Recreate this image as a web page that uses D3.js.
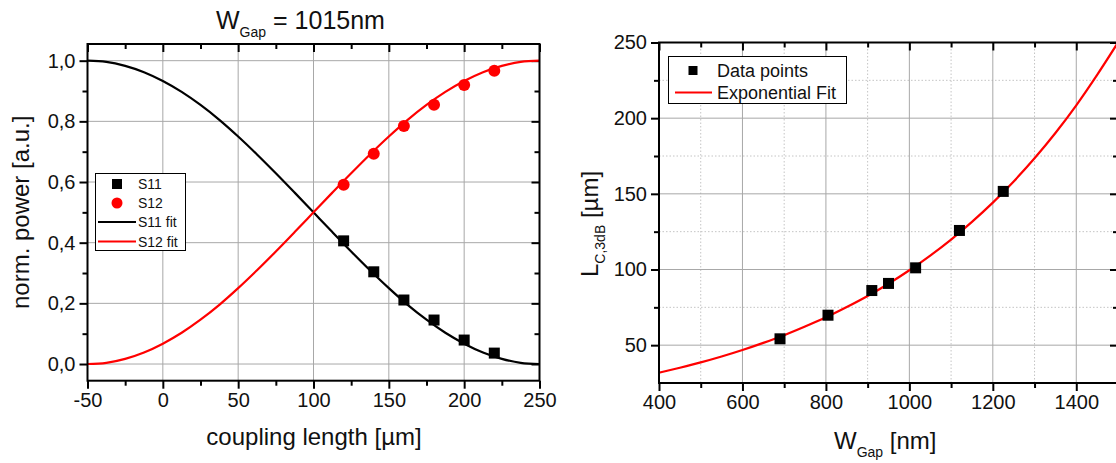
<!DOCTYPE html>
<html>
<head>
<meta charset="utf-8">
<script src="https://cdn.jsdelivr.net/npm/d3@7"></script>
<style>
  html, body { margin: 0; padding: 0; background: #fff; }
  svg { display: block; font-family: "Liberation Sans", Arial, sans-serif; }
</style>
</head>
<body>
<svg id="chart" width="1116" height="463"></svg>
<script>
// ---------- Left panel data ----------
const leftXTicks = [-50, 0, 50, 100, 150, 200, 250];
const leftXMinor = [-25, 25, 75, 125, 175, 225];
const leftYTicks = [0, 0.2, 0.4, 0.6, 0.8, 1.0];
const leftYMinor = [0.1, 0.3, 0.5, 0.7, 0.9];

const couplingLength = [120, 140, 160, 180, 200, 220];
const s11Points = [0.406, 0.304, 0.211, 0.145, 0.079, 0.036];
const s12Points = [0.591, 0.693, 0.785, 0.855, 0.920, 0.967];

const fitX = [-50, -37.5, -25, -12.5, 0, 12.5, 25, 37.5, 50, 62.5, 75, 87.5, 100, 112.5, 125, 137.5, 150, 162.5, 175, 187.5, 200, 212.5, 225, 237.5, 250];
const s11Fit = [1.000, 0.996, 0.983, 0.962, 0.933, 0.897, 0.854, 0.805, 0.750, 0.691, 0.629, 0.565, 0.500, 0.435, 0.371, 0.309, 0.250, 0.195, 0.146, 0.103, 0.067, 0.038, 0.017, 0.004, 0.000];
const s12Fit = [0.000, 0.004, 0.017, 0.038, 0.067, 0.103, 0.146, 0.195, 0.250, 0.309, 0.371, 0.435, 0.500, 0.565, 0.629, 0.691, 0.750, 0.805, 0.854, 0.897, 0.933, 0.962, 0.983, 0.996, 1.000];

// ---------- Right panel data ----------
const rightXTicks = [400, 600, 800, 1000, 1200, 1400];
const rightXMinor = [500, 700, 900, 1100, 1300, 1500];
const rightYTicks = [50, 100, 150, 200, 250];
const rightYMinor = [75, 125, 175, 225];

const gapWidth = [690, 805, 910, 950, 1015, 1120, 1225];
const lc3dB = [54.2, 69.8, 86.1, 90.8, 101.1, 125.8, 151.6];

const expFitX = [400, 450, 500, 550, 600, 650, 700, 750, 800, 850, 900, 950, 1000, 1050, 1100, 1150, 1200, 1250, 1300, 1350, 1400, 1450, 1500];
const expFitY = [31.8, 35.1, 38.6, 42.5, 46.8, 51.5, 56.6, 62.3, 68.4, 75.2, 82.5, 90.6, 99.5, 109.2, 119.8, 131.5, 144.2, 158.2, 173.5, 190.2, 208.5, 228.6, 250.0];

// ---------- Drawing ----------
const svg = d3.select("#chart");
const TICK_FONT = 20;
const LABEL_FONT = 24;
const majorLen = 8, minorLen = 5;

function drawPanel(opts) {
  const { x, y, xTicks, xMinor, yTicks, yMinor, yFmt, minorGrid } = opts;
  const [x0, x1] = x.range();
  const [y0, y1] = y.range();
  const g = svg.append("g");

  const grid = g.append("g");
  if (minorGrid) {
    grid.selectAll(".mgx").data(xMinor).join("line")
      .attr("x1", d => x(d)).attr("x2", d => x(d)).attr("y1", y0).attr("y2", y1)
      .attr("stroke", "#c4c4c4").attr("stroke-width", 1).attr("stroke-dasharray", "1.5,2");
    grid.selectAll(".mgy").data(yMinor).join("line")
      .attr("y1", d => y(d)).attr("y2", d => y(d)).attr("x1", x0).attr("x2", x1)
      .attr("stroke", "#c4c4c4").attr("stroke-width", 1).attr("stroke-dasharray", "1.5,2");
  }
  grid.selectAll(".gx").data(xTicks).join("line")
    .attr("x1", d => x(d)).attr("x2", d => x(d)).attr("y1", y0).attr("y2", y1)
    .attr("stroke", "#a8a8a8").attr("stroke-width", 1);
  grid.selectAll(".gy").data(yTicks).join("line")
    .attr("y1", d => y(d)).attr("y2", d => y(d)).attr("x1", x0).attr("x2", x1)
    .attr("stroke", "#a8a8a8").attr("stroke-width", 1);

  const axStyle = sel => {
    sel.select(".domain").remove();
    sel.selectAll(".tick line").attr("stroke", "#000").attr("stroke-width", 2);
    sel.selectAll("text").attr("font-size", TICK_FONT).attr("fill", "#111")
      .attr("font-family", "'Liberation Sans', Arial, sans-serif");
  };
  g.append("g").attr("transform", `translate(0,${y0})`)
    .call(d3.axisBottom(x).tickValues(xTicks).tickSizeInner(majorLen).tickSizeOuter(0).tickPadding(4).tickFormat(d => String(d)))
    .call(axStyle);
  g.append("g").attr("transform", `translate(0,${y0})`)
    .call(d3.axisBottom(x).tickValues(xMinor).tickSizeInner(minorLen).tickSizeOuter(0).tickFormat(""))
    .call(axStyle);
  g.append("g").attr("transform", `translate(${x0},0)`)
    .call(d3.axisLeft(y).tickValues(yTicks).tickSizeInner(majorLen).tickSizeOuter(0).tickPadding(4).tickFormat(yFmt))
    .call(axStyle);
  g.append("g").attr("transform", `translate(${x0},0)`)
    .call(d3.axisLeft(y).tickValues(yMinor).tickSizeInner(minorLen).tickSizeOuter(0).tickFormat(""))
    .call(axStyle);
  g.append("g").attr("transform", `translate(0,${y1})`)
    .call(d3.axisTop(x).tickValues(xTicks).tickSizeInner(-majorLen).tickSizeOuter(0).tickFormat(""))
    .call(axStyle);
  g.append("g").attr("transform", `translate(0,${y1})`)
    .call(d3.axisTop(x).tickValues(xMinor).tickSizeInner(-minorLen).tickSizeOuter(0).tickFormat(""))
    .call(axStyle);
  g.append("g").attr("transform", `translate(${x1},0)`)
    .call(d3.axisRight(y).tickValues(yTicks).tickSizeInner(-majorLen).tickSizeOuter(0).tickFormat(""))
    .call(axStyle);
  g.append("g").attr("transform", `translate(${x1},0)`)
    .call(d3.axisRight(y).tickValues(yMinor).tickSizeInner(-minorLen).tickSizeOuter(0).tickFormat(""))
    .call(axStyle);
  return g;
}

function frame(x, y) {
  const [x0, x1] = x.range();
  const [y0, y1] = y.range();
  svg.append("rect").attr("x", x0).attr("y", y1).attr("width", x1 - x0).attr("height", y0 - y1)
    .attr("fill", "none").attr("stroke", "#000").attr("stroke-width", 2);
}

// ===== Left panel =====
const xL = d3.scaleLinear().domain([-50, 250]).range([87.5, 539.5]);
const yL = d3.scaleLinear().domain([-0.055, 1.055]).range([380.7, 44]);
drawPanel({ x: xL, y: yL, xTicks: leftXTicks, xMinor: leftXMinor, yTicks: leftYTicks, yMinor: leftYMinor,
  yFmt: d => d.toFixed(1).replace(".", ","), minorGrid: false });

const lineL = (ys) => d3.line().x((d, i) => xL(fitX[i])).y((d, i) => yL(ys[i])).curve(d3.curveMonotoneX)(ys);
svg.append("path").attr("d", lineL(s11Fit)).attr("fill", "none").attr("stroke", "#000").attr("stroke-width", 2.2);
svg.append("path").attr("d", lineL(s12Fit)).attr("fill", "none").attr("stroke", "#f00").attr("stroke-width", 2.2);

svg.append("g").selectAll("rect").data(couplingLength).join("rect")
  .attr("x", (d) => xL(d) - 5.5).attr("y", (d, i) => yL(s11Points[i]) - 5.5)
  .attr("width", 11).attr("height", 11).attr("fill", "#000");
svg.append("g").selectAll("circle").data(couplingLength).join("circle")
  .attr("cx", d => xL(d)).attr("cy", (d, i) => yL(s12Points[i])).attr("r", 6).attr("fill", "#f00");
frame(xL, yL);

// left legend
const lgL = svg.append("g");
lgL.append("rect").attr("x", 95.5).attr("y", 173.5).attr("width", 90).attr("height", 77)
  .attr("fill", "#fff").attr("stroke", "#000").attr("stroke-width", 1);
const lgLItems = ["S11", "S12", "S11 fit", "S12 fit"];
const lgLy = [184, 203, 222, 241.5];
lgL.append("rect").attr("x", 112).attr("y", lgLy[0] - 5).attr("width", 10).attr("height", 10).attr("fill", "#000");
lgL.append("circle").attr("cx", 117).attr("cy", lgLy[1]).attr("r", 5.5).attr("fill", "#f00");
lgL.append("line").attr("x1", 98).attr("x2", 136).attr("y1", lgLy[2]).attr("y2", lgLy[2]).attr("stroke", "#000").attr("stroke-width", 2);
lgL.append("line").attr("x1", 98).attr("x2", 136).attr("y1", lgLy[3]).attr("y2", lgLy[3]).attr("stroke", "#f00").attr("stroke-width", 2);
lgL.selectAll("text").data(lgLItems).join("text")
  .attr("x", 138).attr("y", (d, i) => lgLy[i] + 5).attr("font-size", 14).attr("fill", "#111").text(d => d);

// left title
const title = svg.append("text").attr("x", 216).attr("y", 29).attr("font-size", 25).attr("fill", "#111");
title.append("tspan").text("W");
title.append("tspan").attr("font-size", 14).attr("dy", 8).text("Gap");
title.append("tspan").attr("dy", -8).text(" = 1015nm");

// left axis labels
svg.append("text").attr("x", 314).attr("y", 445).attr("text-anchor", "middle")
  .attr("font-size", LABEL_FONT).attr("fill", "#111").text("coupling length [µm]");
svg.append("text").attr("transform", `translate(29,${(44 + 380.7) / 2}) rotate(-90)`).attr("text-anchor", "middle")
  .attr("font-size", LABEL_FONT).attr("fill", "#111").text("norm. power [a.u.]");

// ===== Right panel =====
const xR = d3.scaleLinear().domain([400, 1500]).range([659, 1118]);
const yR = d3.scaleLinear().domain([25, 250]).range([383, 42.5]);
drawPanel({ x: xR, y: yR, xTicks: rightXTicks, xMinor: rightXMinor, yTicks: rightYTicks, yMinor: rightYMinor,
  yFmt: d => String(d), minorGrid: true });

const lineR = d3.line().x((d, i) => xR(expFitX[i])).y((d, i) => yR(expFitY[i])).curve(d3.curveMonotoneX);
svg.append("path").attr("d", lineR(expFitY)).attr("fill", "none").attr("stroke", "#f00").attr("stroke-width", 2.2);
svg.append("g").selectAll("rect").data(gapWidth).join("rect")
  .attr("x", d => xR(d) - 5.5).attr("y", (d, i) => yR(lc3dB[i]) - 5.5)
  .attr("width", 11).attr("height", 11).attr("fill", "#000");
frame(xR, yR);

// right legend
const lgR = svg.append("g");
lgR.append("rect").attr("x", 668.5).attr("y", 56.5).attr("width", 178).attr("height", 47)
  .attr("fill", "#fff").attr("stroke", "#000").attr("stroke-width", 1);
lgR.append("rect").attr("x", 688.5).attr("y", 66).attr("width", 9).attr("height", 9).attr("fill", "#000");
lgR.append("line").attr("x1", 675).attr("x2", 712).attr("y1", 92.5).attr("y2", 92.5).attr("stroke", "#f00").attr("stroke-width", 2);
lgR.append("text").attr("x", 717).attr("y", 77).attr("font-size", 18).attr("fill", "#111").text("Data points");
lgR.append("text").attr("x", 717).attr("y", 99).attr("font-size", 18).attr("fill", "#111").text("Exponential Fit");

// right axis labels
const xRl = svg.append("text").attr("x", 834).attr("y", 449).attr("font-size", LABEL_FONT).attr("fill", "#111");
xRl.append("tspan").text("W");
xRl.append("tspan").attr("font-size", 14).attr("dy", 8).text("Gap");
xRl.append("tspan").attr("dy", -8).text(" [nm]");

const yRl = svg.append("text").attr("transform", `translate(598,224) rotate(-90)`)
  .attr("text-anchor", "middle").attr("font-size", LABEL_FONT).attr("fill", "#111");
yRl.append("tspan").text("L");
yRl.append("tspan").attr("font-size", 14).attr("dy", 7).text("C,3dB");
yRl.append("tspan").attr("dy", -7).text(" [µm]");
</script>
</body>
</html>
